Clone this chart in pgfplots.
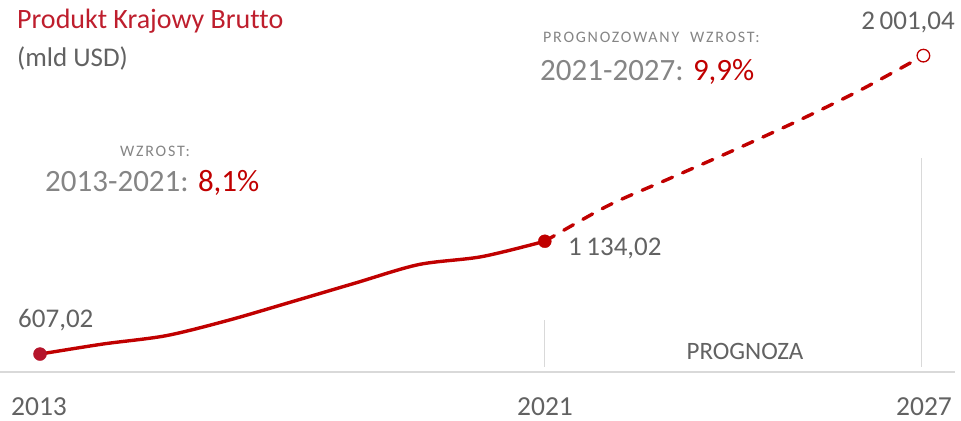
\documentclass[border=0pt]{standalone}
\usepackage{pgfplots}
\pgfplotsset{compat=1.18}
\usepackage{fontspec}
\setmainfont[Ligatures=NoCommon]{Carlito}
\newfontfamily\spaced[LetterSpace=11]{Carlito}
\definecolor{lred}{HTML}{C00000}
\definecolor{mred}{HTML}{B5152B}
\definecolor{tred}{HTML}{BE1E2D}
\definecolor{gtxt}{HTML}{858585}
\definecolor{vtxt}{HTML}{626262}
\definecolor{grid}{HTML}{D9D9D9}
\newcommand{\fs}[1]{\fontsize{#1bp}{#1bp}\selectfont}
\begin{document}
\begin{tikzpicture}[x=1bp,y=1bp]
\begin{axis}[
  at={(0,0)}, anchor=south west,
  scale only axis, width=961bp, height=420bp,
  xmin=2012.366, xmax=2027.596, ymin=299, ymax=2261,
  hide axis, clip=false,
]
% baseline and vertical separators
\draw[grid, line width=2bp] (axis cs:2012.366,523) -- (axis cs:2027.5,523);
\draw[grid, line width=1.2bp] (axis cs:2021,523+24) -- (axis cs:2021,523+245);
\draw[grid, line width=1.2bp] (axis cs:2026.97,523+24) -- (axis cs:2026.97,523+1000);
% solid historic line
\addplot[lred, line width=3.4bp, smooth, tension=0.5] coordinates {
 (2013,607.02) (2014,654) (2015,693) (2016,766) (2017,852) (2018,939) (2019,1025) (2020,1062) (2021,1134.02)};
% dashed forecast
\addplot[lred, line width=3.4bp, smooth, tension=0.5, line cap=round, dash pattern=on 11bp off 11bp] coordinates {
 (2021,1134.02) (2022,1300) (2023,1430) (2024,1560) (2025,1695) (2026,1840) (2027,2001.04)};
% markers
\addplot[only marks, mark=*, mark size=6.5bp, mark options={fill=mred, draw=mred}] coordinates {(2013,607.02)};
\addplot[only marks, mark=*, mark size=6.5bp, mark options={fill=lred, draw=lred}] coordinates {(2021,1134.02)};
\addplot[only marks, mark=*, mark size=6.3bp, mark options={draw=lred, fill=white, line width=1.3bp, solid}] coordinates {(2027,2001.04)};
\end{axis}
% texts (pixel coordinates: x right, y from top)
\def\T#1#2{({#1},{420-(#2)})}
\node[anchor=base west, inner sep=0, text=tred] at \T{17}{29} {\fs{28}Produkt Krajowy Brutto};
\node[anchor=base west, inner sep=0, text=vtxt] at \T{17}{66} {\fs{27}(mld USD)};
\node[anchor=base west, inner sep=0, text=gtxt] at \T{543}{42} {\spaced\fs{16}PROGNOZOWANY\ \ WZROST:};
\node[anchor=base west, inner sep=0, text=gtxt] at \T{540}{80} {\fs{31}2021-2027: \textcolor{lred}{9,9\%}};
\node[anchor=base east, inner sep=0, text=vtxt] at \T{955}{30} {\fs{27}2\,001,04};
\node[anchor=base west, inner sep=0, text=gtxt] at \T{120}{156} {\spaced\fs{16}WZROST:};
\node[anchor=base west, inner sep=0, text=gtxt] at \T{45}{191} {\fs{31}2013-2021: \textcolor{lred}{8,1\%}};
\node[anchor=base west, inner sep=0, text=vtxt] at \T{568}{255} {\fs{27}1\,134,02};
\node[anchor=base west, inner sep=0, text=vtxt] at \T{18}{327} {\fs{27}607,02};
\node[anchor=base, inner sep=0, text=vtxt] at \T{745}{359} {\fs{25}PROGNOZA};
\node[anchor=base, inner sep=0, text=vtxt] at \T{39}{415} {\fs{27.5}2013};
\node[anchor=base, inner sep=0, text=vtxt] at \T{545}{415} {\fs{27.5}2021};
\node[anchor=base, inner sep=0, text=vtxt] at \T{924}{415} {\fs{27.5}2027};
\pgfresetboundingbox
\path (0,0) rectangle (961,420);
\end{tikzpicture}
\end{document}
